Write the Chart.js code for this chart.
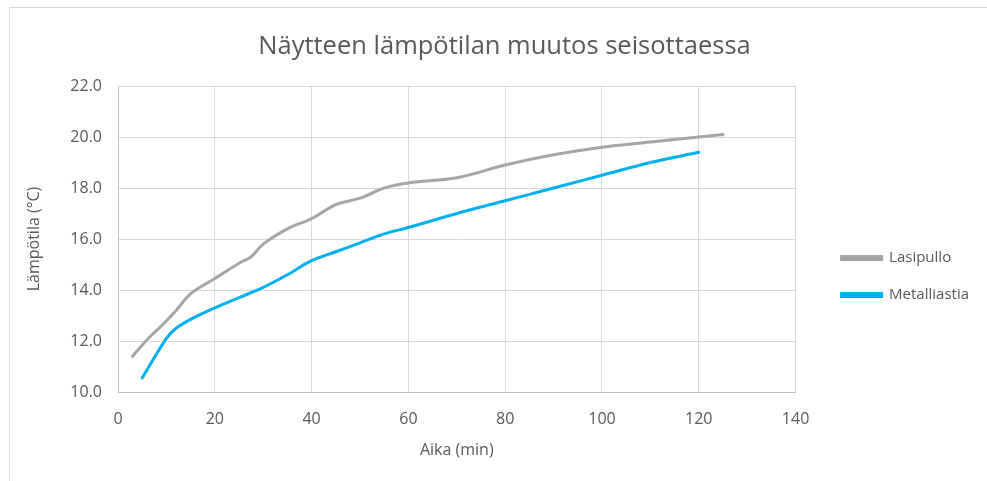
<!DOCTYPE html>
<html>
<head>
<meta charset="utf-8">
<script src="https://cdn.jsdelivr.net/npm/chart.js@4"></script>
<style>
  html, body { margin: 0; padding: 0; background: #fff; overflow: hidden; }
  #frame { position: absolute; left: 9px; top: 7px; width: 978px; height: 474px;
           border-left: 1px solid #d9d9d9; border-top: 1px solid #d9d9d9; }
  canvas { display: block; }
</style>
</head>
<body>
<div id="frame"><canvas id="chart" width="977" height="473"></canvas></div>
<script>
// Lasipullo (glass bottle)
const glassTime = [3, 6, 9, 12, 15, 20, 25, 27.5, 30, 35, 40, 45, 50, 55, 60, 70, 80, 90, 100, 110, 120, 125];
const glassTemp = [11.4, 12.05, 12.6, 13.2, 13.85, 14.45, 15.05, 15.3, 15.8, 16.4, 16.8, 17.35, 17.6, 18.0, 18.2, 18.4, 18.9, 19.3, 19.6, 19.8, 20.0, 20.1];

// Metalliastia (metal container)
const metalTime = [5, 10, 12, 15, 20, 25, 30, 35, 40, 45, 50, 55, 60, 70, 80, 90, 100, 110, 120];
const metalTemp = [10.55, 12.1, 12.5, 12.85, 13.3, 13.7, 14.1, 14.6, 15.15, 15.5, 15.85, 16.2, 16.45, 17.0, 17.5, 18.0, 18.5, 19.0, 19.4];

const seriesNames = ["Lasipullo", "Metalliastia"];
const xTicks = [0, 20, 40, 60, 80, 100, 120, 140];
const yTicks = [10, 12, 14, 16, 18, 20, 22];

const textColor = "#595959";
const gridColor = "#d9d9d9";
const fontFamily = "'Open Sans', sans-serif";

function toPoints(xs, ys) {
  return xs.map((x, i) => ({ x: x, y: ys[i] }));
}

// nudge the title a little right, like the original
const titleShift = {
  id: "titleShift",
  afterLayout(chart) {
    if (chart.titleBlock) chart.titleBlock.left += 20;
  }
};

const ctx = document.getElementById("chart").getContext("2d");

new Chart(ctx, {
  type: "line",
  data: {
    datasets: [
      {
        label: seriesNames[0],
        data: toPoints(glassTime, glassTemp),
        borderColor: "#a5a5a5",
        backgroundColor: "#a5a5a5",
        borderWidth: 3,
        borderCapStyle: "round",
        pointRadius: 0,
        tension: 0.35,
        fill: false
      },
      {
        label: seriesNames[1],
        data: toPoints(metalTime, metalTemp),
        borderColor: "#00b0f0",
        backgroundColor: "#00b0f0",
        borderWidth: 3,
        borderCapStyle: "round",
        pointRadius: 0,
        tension: 0.35,
        fill: false
      }
    ]
  },
  options: {
    responsive: false,
    animation: false,
    devicePixelRatio: 1,
    layout: { padding: { left: 0, right: 8, top: 0, bottom: 18 } },
    plugins: {
      title: {
        display: true,
        text: "Näytteen lämpötilan muutos seisottaessa",
        color: textColor,
        font: { family: fontFamily, size: 25.5, weight: "normal" },
        padding: { top: 23, bottom: 24.4 }
      },
      legend: {
        position: "right",
        title: { display: true, text: " ", font: { size: 10 }, padding: 35 },
        labels: {
          color: textColor,
          font: { family: fontFamily, size: 15 },
          boxWidth: 40,
          boxHeight: 3,
          padding: 22
        }
      },
      tooltip: { enabled: false }
    },
    scales: {
      x: {
        type: "linear",
        min: xTicks[0],
        max: xTicks[xTicks.length - 1],
        afterBuildTicks: s => { s.ticks = xTicks.map(v => ({ value: v })); },
        afterFit: s => { s.height = 71; },
        grid: { color: gridColor, drawTicks: false },
        border: { color: "#bfbfbf" },
        ticks: { color: textColor, font: { family: fontFamily, size: 16 }, padding: 18, maxRotation: 0 },
        title: {
          display: true,
          text: "Aika (min)",
          color: textColor,
          font: { family: fontFamily, size: 16 },
          padding: { top: 0, bottom: 3 }
        }
      },
      y: {
        type: "linear",
        min: yTicks[0],
        max: yTicks[yTicks.length - 1],
        afterBuildTicks: s => { s.ticks = yTicks.map(v => ({ value: v })); },
        afterFit: s => { s.width = 108; },
        grid: { color: gridColor, drawTicks: false },
        border: { color: "#bfbfbf" },
        ticks: { color: textColor, font: { family: fontFamily, size: 16 }, padding: 16, callback: v => v.toFixed(1) },
        title: {
          display: true,
          text: "Lämpötila (°C)",
          color: textColor,
          font: { family: fontFamily, size: 16 },
          padding: { top: 15, bottom: 0 }
        }
      },
      gap: {
        type: "linear",
        position: "right",
        display: true,
        afterFit: s => { s.width = 24; },
        grid: { display: false, drawOnChartArea: false },
        border: { display: false },
        ticks: { display: false }
      }
    }
  },
  plugins: [titleShift]
});
</script>
</body>
</html>
